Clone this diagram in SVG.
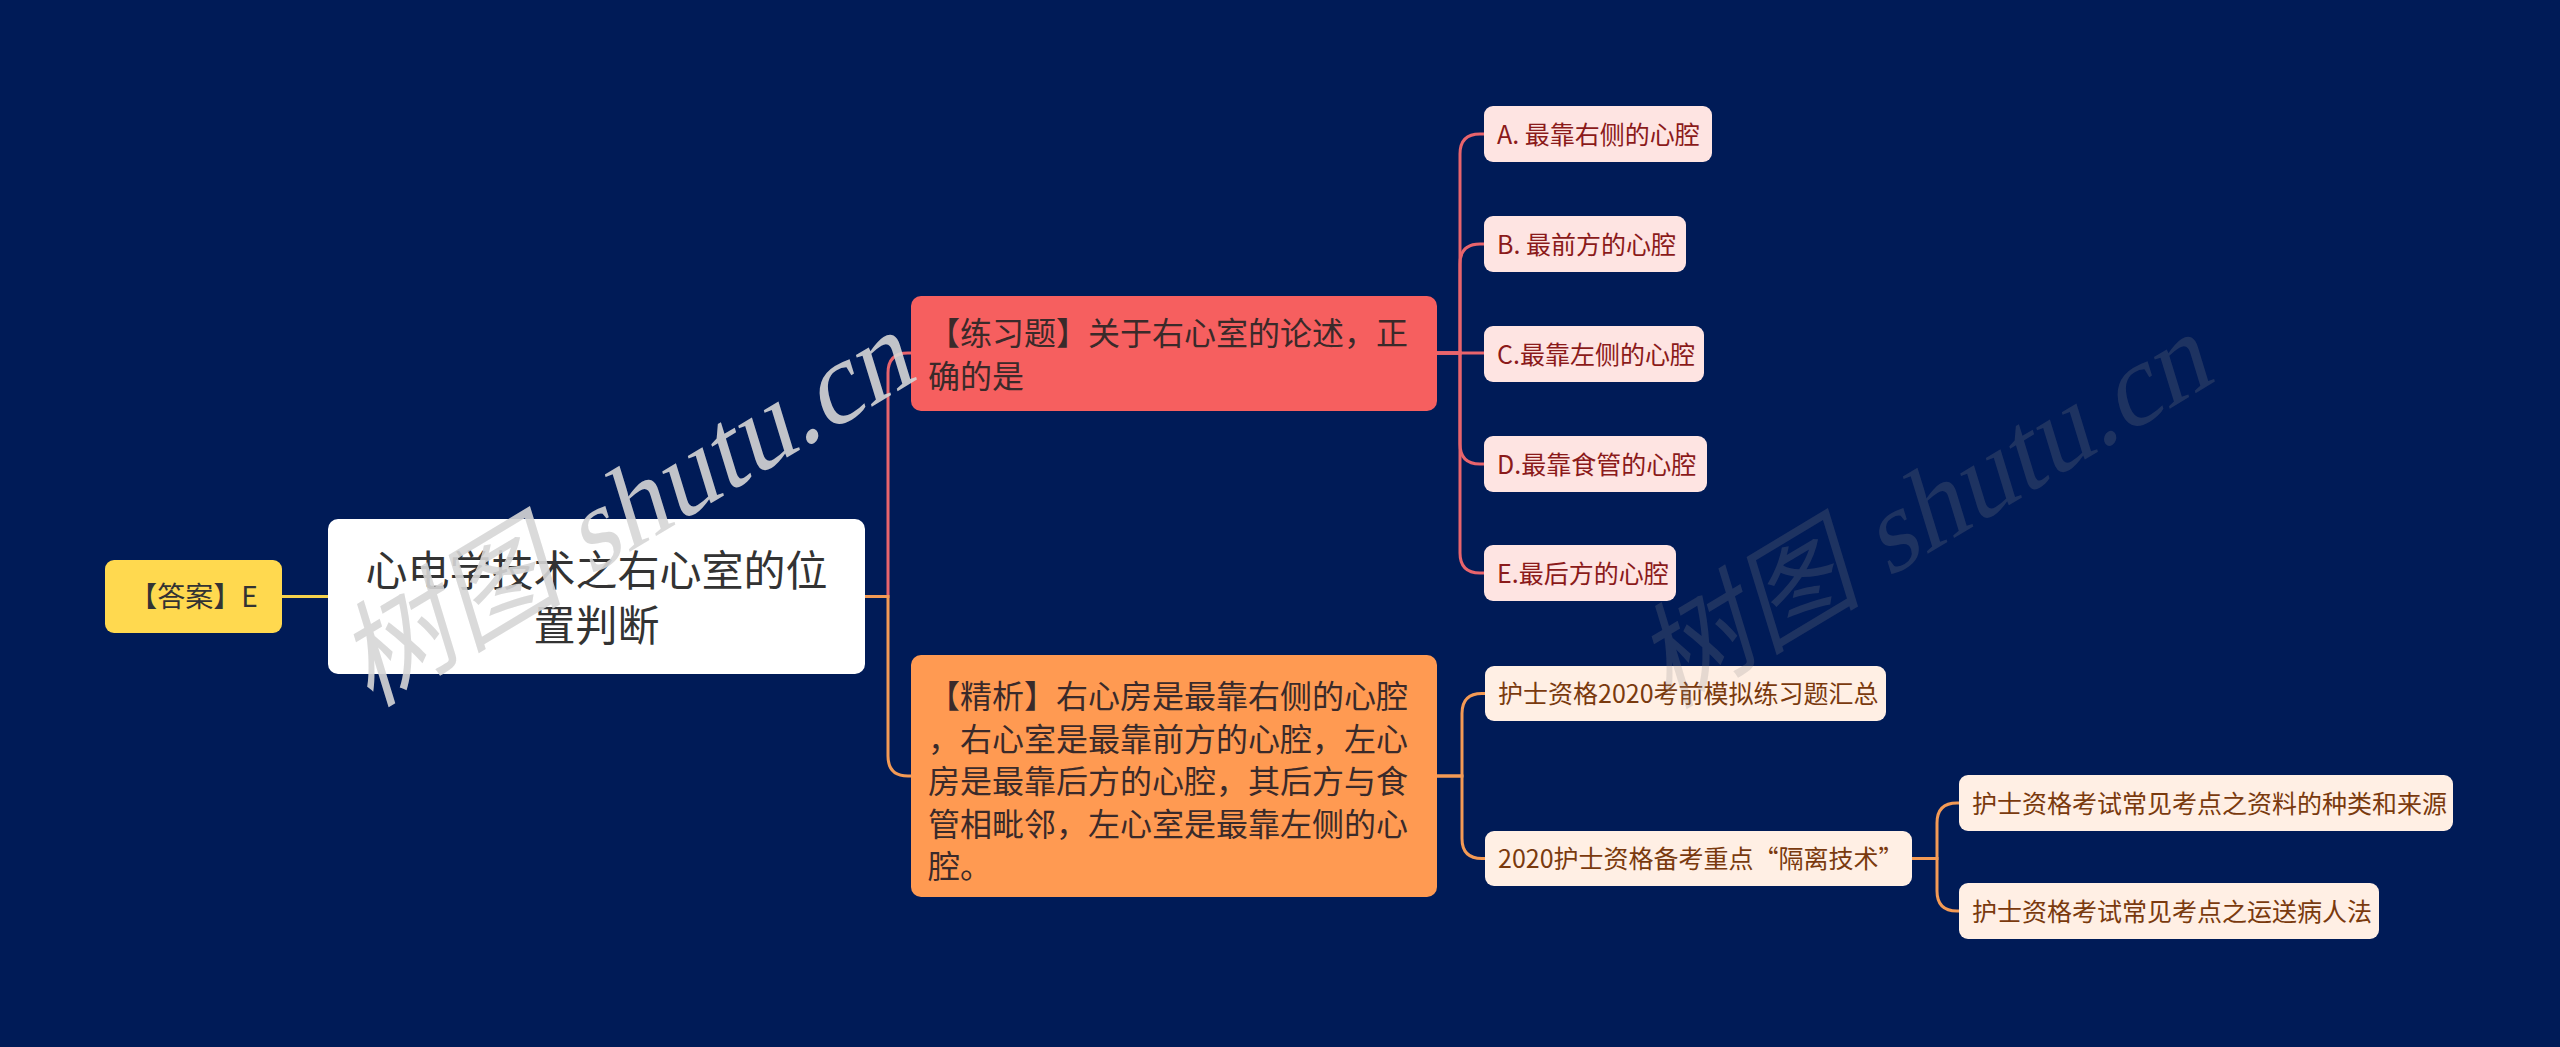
<svg xmlns="http://www.w3.org/2000/svg" width="2560" height="1047" viewBox="0 0 2560 1047">
<style>
text{font-family:"Noto Sans CJK SC","Noto Sans",sans-serif;}
.c-red{fill:none;stroke:#E8646C;stroke-width:3;}
.c-org{fill:none;stroke:#F39A55;stroke-width:3;}
.c-yel{fill:none;stroke:#F6D24C;stroke-width:3;}
.root{fill:#FFFFFF;}
.ans{fill:#FFD94F;}
.prac{fill:#F65F5F;}
.anal{fill:#FF9A52;}
.opt{fill:#FEE4E2;}
.sub{fill:#FFEFE4;}
.t-dark{fill:#333333;}
.t-opt{fill:#8B1A1A;font-size:25px;}
.t-sub{fill:#7A3A0E;font-size:25px;}
.t-mid{fill:#3A2A2A;font-size:32px;}
.wm{font-family:"Liberation Serif","Noto Sans CJK SC",serif;font-size:114px;}
</style>
<rect width="2560" height="1047" fill="#001B57"/>
<g id="connectors">
<path class="c-yel" d="M282,596.5 H328"/>
<path class="c-red" d="M865,596.5 H888 V373 Q888,353 908,353 H911"/>
<path class="c-org" d="M865,596.5 H888 V756 Q888,776 908,776 H911"/>
<path class="c-red" d="M1437,353 H1460 V154 Q1460,134 1480,134 H1484"/>
<path class="c-red" d="M1437,353 H1460 V264 Q1460,244 1480,244 H1484"/>
<path class="c-red" d="M1437,353 H1484"/>
<path class="c-red" d="M1437,353 H1460 V444 Q1460,464 1480,464 H1484"/>
<path class="c-red" d="M1437,353 H1460 V553 Q1460,573 1480,573 H1484"/>
<path class="c-org" d="M1437,776 H1462 V713.5 Q1462,693.5 1482,693.5 H1485"/>
<path class="c-org" d="M1437,776 H1462 V838.5 Q1462,858.5 1482,858.5 H1485"/>
<path class="c-org" d="M1912,858.5 H1937 V823 Q1937,803 1957,803 H1959"/>
<path class="c-org" d="M1912,858.5 H1937 V891 Q1937,911 1957,911 H1959"/>
</g>
<g id="node-answer">
<rect class="ans" x="105" y="560" width="177" height="73" rx="9"/>
<text class="t-dark" x="193.5" y="607" font-size="28" text-anchor="middle">【答案】E</text>
</g>
<g id="node-root">
<rect class="root" x="328" y="519" width="537" height="155" rx="10"/>
<text class="t-dark" x="596.5" y="586" font-size="42" text-anchor="middle">心电学技术之右心室的位</text>
<text class="t-dark" x="596.5" y="641" font-size="42" text-anchor="middle">置判断</text>
</g>
<g id="node-practice">
<rect class="prac" x="911" y="296" width="526" height="115" rx="10"/>
<text class="t-mid" x="928" y="345">【练习题】关于右心室的论述，正</text>
<text class="t-mid" x="928" y="388">确的是</text>
</g>
<g id="node-analysis">
<rect class="anal" x="911" y="655" width="526" height="242" rx="10"/>
<text class="t-mid" x="928" y="708">【精析】右心房是最靠右侧的心腔</text>
<text class="t-mid" x="928" y="750.5">，右心室是最靠前方的心腔，左心</text>
<text class="t-mid" x="928" y="793">房是最靠后方的心腔，其后方与食</text>
<text class="t-mid" x="928" y="835.5">管相毗邻，左心室是最靠左侧的心</text>
<text class="t-mid" x="928" y="878">腔。</text>
</g>
<g id="node-a">
<rect class="opt" x="1484" y="106" width="228" height="56" rx="9"/>
<text class="t-opt" x="1497" y="143.5">A. 最靠右侧的心腔</text>
</g>
<g id="node-b">
<rect class="opt" x="1484" y="216" width="202" height="56" rx="9"/>
<text class="t-opt" x="1497" y="253.5">B. 最前方的心腔</text>
</g>
<g id="node-c">
<rect class="opt" x="1484" y="326" width="220" height="56" rx="9"/>
<text class="t-opt" x="1497" y="363.5">C.最靠左侧的心腔</text>
</g>
<g id="node-d">
<rect class="opt" x="1484" y="436" width="223" height="56" rx="9"/>
<text class="t-opt" x="1497" y="473.5">D.最靠食管的心腔</text>
</g>
<g id="node-e">
<rect class="opt" x="1484" y="545" width="192" height="56" rx="9"/>
<text class="t-opt" x="1497" y="582.5">E.最后方的心腔</text>
</g>
<g id="node-sub1">
<rect class="sub" x="1485" y="666" width="401" height="55" rx="9"/>
<text class="t-sub" x="1498" y="703">护士资格2020考前模拟练习题汇总</text>
</g>
<g id="node-sub2">
<rect class="sub" x="1485" y="831" width="427" height="55" rx="9"/>
<text class="t-sub" x="1498" y="868">2020护士资格备考重点“隔离技术”</text>
</g>
<g id="node-gc1">
<rect class="sub" x="1959" y="775" width="494" height="56" rx="9"/>
<text class="t-sub" x="1972" y="812.5">护士资格考试常见考点之资料的种类和来源</text>
</g>
<g id="node-gc2">
<rect class="sub" x="1959" y="883" width="420" height="56" rx="9"/>
<text class="t-sub" x="1972" y="920.5">护士资格考试常见考点之运送病人法</text>
</g>
<g id="watermarks">
<text class="wm" transform="translate(370,708) rotate(-31) skewX(-14)" fill="#D6D6D6" fill-opacity="0.9">树图 shutu.cn</text>
<text class="wm" transform="translate(1668,710) rotate(-31) skewX(-14)" fill="#888888" fill-opacity="0.22">树图 shutu.cn</text>
</g>
</svg>
